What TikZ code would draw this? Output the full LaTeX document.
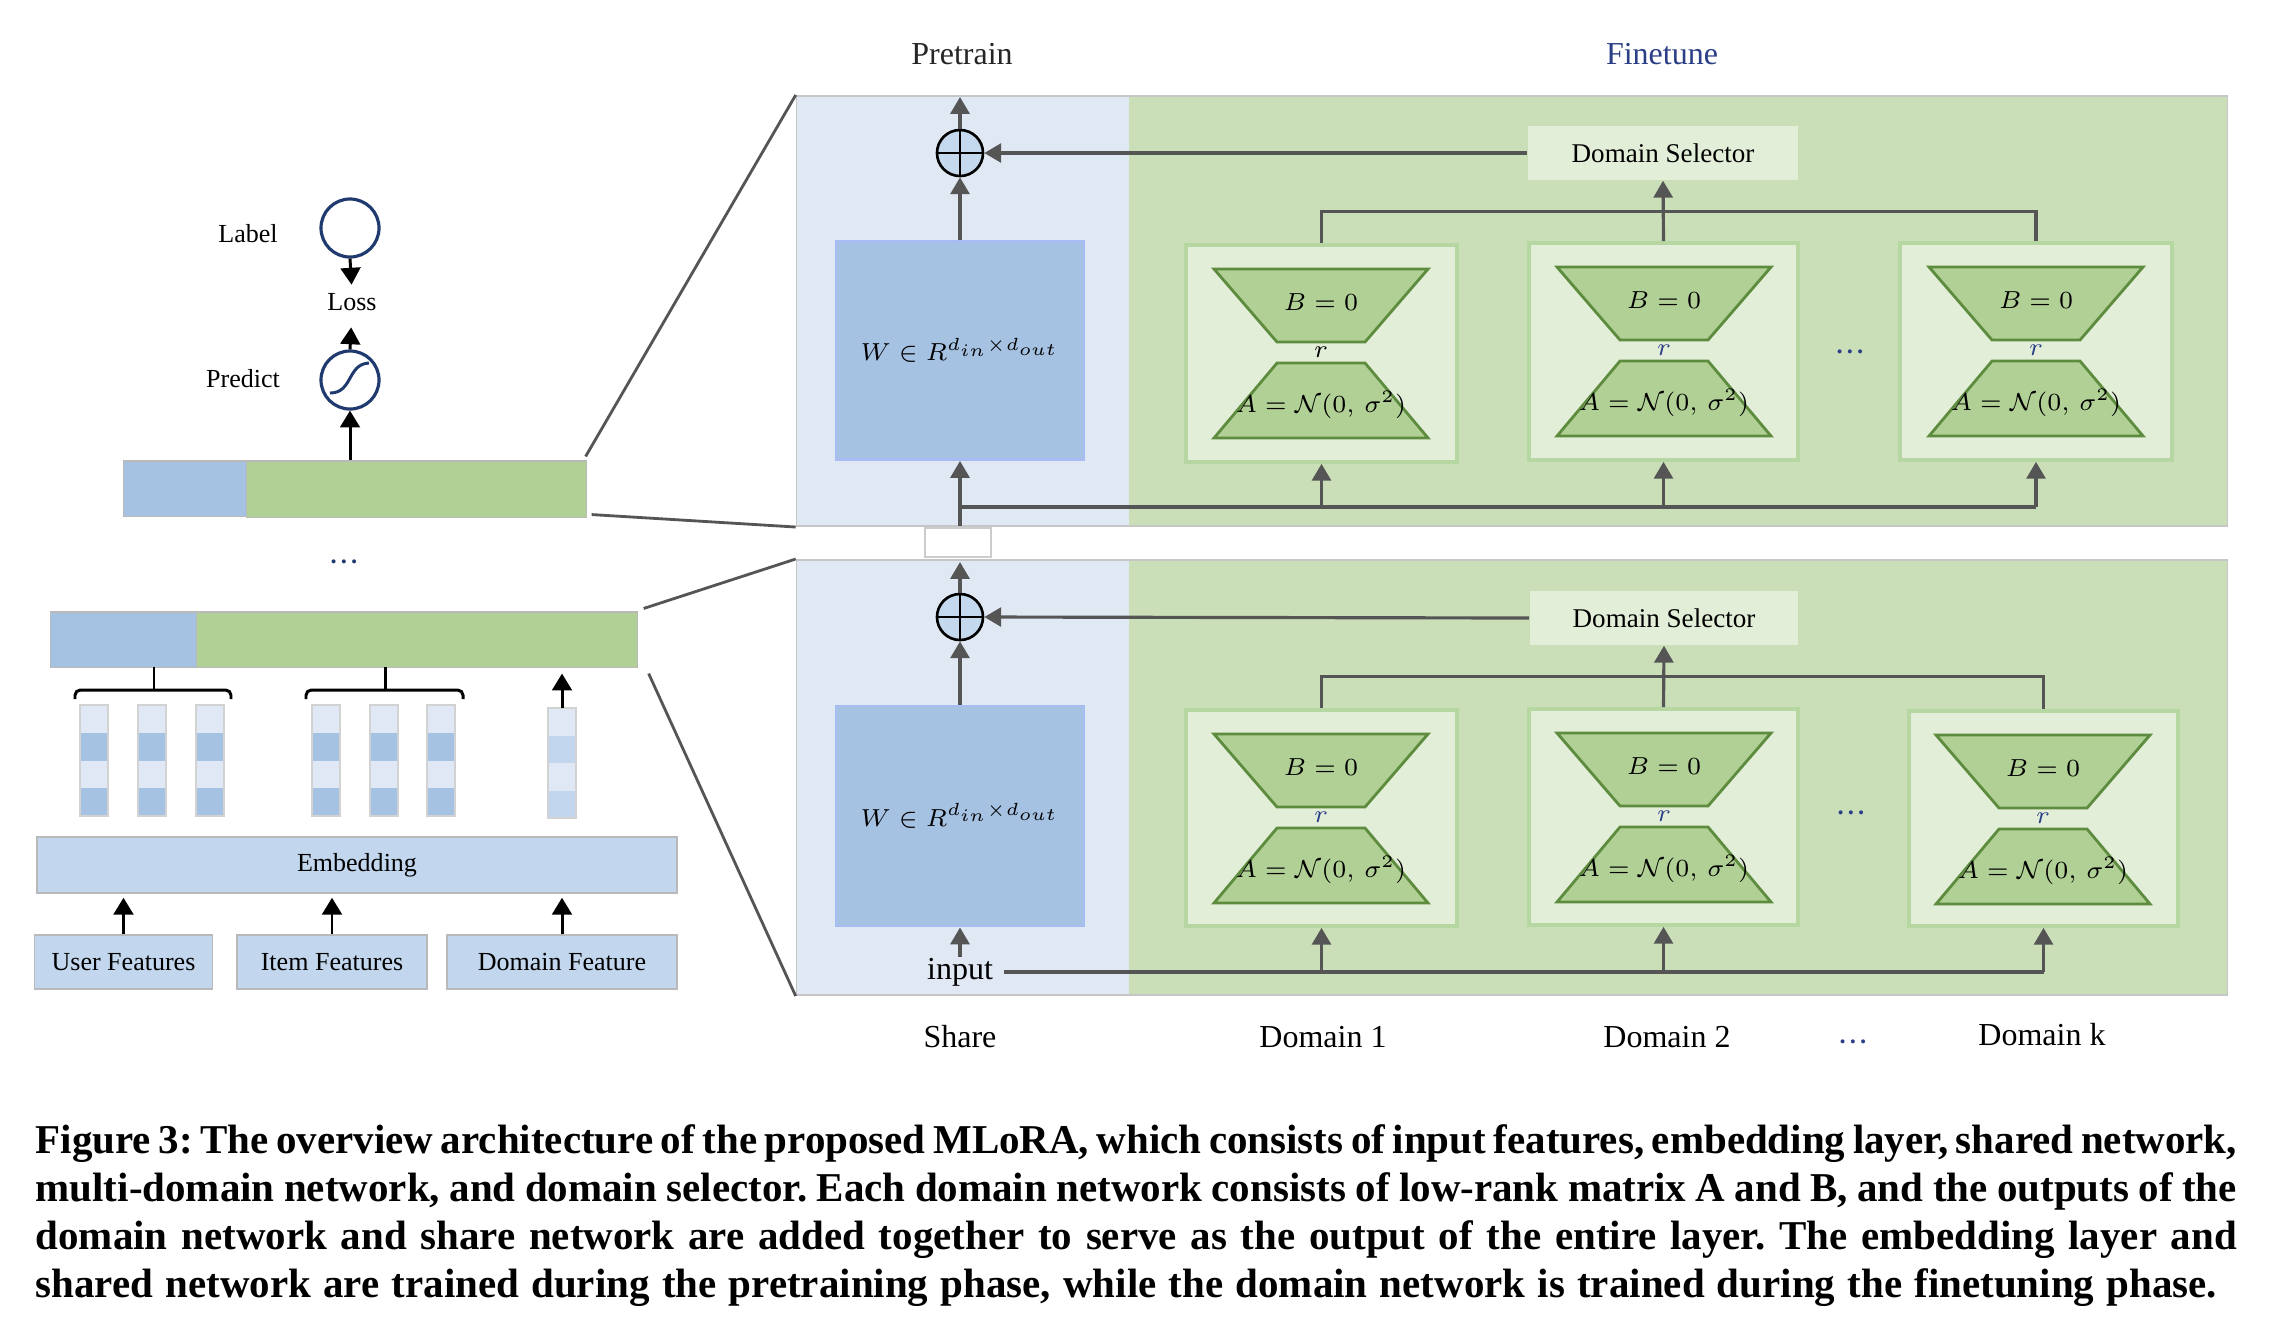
\documentclass[tikz,border=0pt]{standalone}
\usepackage{fontspec}
\setmainfont{Liberation Serif}
\usetikzlibrary{arrows.meta,calc}
\definecolor{pblue}{HTML}{DFE8F3}
\definecolor{pgreen}{HTML}{CADFB8}
\definecolor{wblue}{HTML}{A6C2E2}
\definecolor{wborder}{HTML}{A8BCF4}
\definecolor{opfill}{HTML}{C5D9EE}
\definecolor{dbox}{HTML}{E3EED9}
\definecolor{dborder}{HTML}{B6D6A2}
\definecolor{trapf}{HTML}{B1D095}
\definecolor{trapb}{HTML}{5E8C3E}
\definecolor{arrgray}{HTML}{555555}
\definecolor{navy}{HTML}{1F3A6E}
\definecolor{barblue}{HTML}{A6C2E2}
\definecolor{bargreen}{HTML}{B1D095}
\definecolor{embc}{HTML}{C2D7ED}
\definecolor{cl}{HTML}{DFE8F4}
\definecolor{cd}{HTML}{A6C2E2}
\definecolor{cmid}{HTML}{C2D7ED}
\definecolor{fine}{HTML}{2B3F87}
\newcommand\loraunit[4]{%
  \draw[draw=trapb, fill=trapf, line width=0.8pt] ({#2-107},{#3+24}) -- ({#2+107},{#3+24}) -- ({#2+44},{#3+97}) -- ({#2-44},{#3+97}) -- cycle;
  \draw[draw=trapb, fill=trapf, line width=0.8pt] ({#2-44},{#3+118}) -- ({#2+44},{#3+118}) -- ({#2+107},{#3+193}) -- ({#2-107},{#3+193}) -- cycle;
  \node[mth] (#1B) at (#2,{#3+57}) {$B=0$};
  \node[mth,text=#4] (#1r) at (#2,{#3+107}) {$r$};
  \node[mth] (#1A) at (#2,{#3+160}) {$A=\mathcal{N}(0,\,\sigma^2)$};
}
\frenchspacing
\begin{document}
\begin{tikzpicture}[x=0.01cm,y=-0.01cm,
  lab/.style={font=\fontsize{7.4}{8.9}\selectfont, inner sep=0pt},
  big/.style={font=\fontsize{9.1}{11}\selectfont, inner sep=0pt},
  mth/.style={font=\fontsize{7.1}{8.5}\selectfont, inner sep=0pt},
  arr/.style={draw=arrgray, line width=0.9pt, -{Triangle[length=4.8pt,width=5.4pt]}},
  ln/.style={draw=arrgray, line width=0.9pt},
  blk/.style={draw=black, line width=0.85pt, -{Triangle[length=4.8pt,width=5.6pt]}},
  zl/.style={draw=arrgray, line width=0.8pt},
  circ/.style={circle, draw=navy, line width=0.9pt, fill=white, minimum size=0.58cm, inner sep=0pt},
  opl/.style={circle, draw=black, line width=0.75pt, fill=opfill, minimum size=0.46cm, inner sep=0pt,
    path picture={\draw[black,line width=0.75pt] (path picture bounding box.north) -- (path picture bounding box.south) (path picture bounding box.west) -- (path picture bounding box.east);}},
  wbox/.style={draw=wborder, line width=0.8pt, fill=wblue, minimum width=2.48cm, minimum height=2.18cm, inner sep=0pt, font=\fontsize{7.4}{9}\selectfont},
  dombox/.style={draw=dborder, line width=1pt, fill=dbox, minimum width=2.71cm, minimum height=2.17cm, inner sep=0pt},
  selbox/.style={fill=dbox, minimum width=2.70cm, minimum height=0.54cm, inner sep=0pt, font=\fontsize{7.7}{9}\selectfont},
  featbox/.style={draw=gray!55, line width=0.4pt, fill=embc, minimum height=0.54cm, inner sep=0pt, font=\fontsize{7.4}{8.9}\selectfont},
  barb/.style={fill=barblue, draw=gray!55, line width=0.3pt, inner sep=0pt},
  barg/.style={fill=bargreen, draw=gray!55, line width=0.3pt, inner sep=0pt},
  capt/.style={anchor=base west, inner sep=0pt, font=\bfseries\fontsize{11.65}{14}\selectfont}
]
\useasboundingbox[fill=white] (0,0) rectangle (2276,1326);

% ---------------- left part ----------------
\node[lab] (labeltxt) at (248,234) {Label};
\node[circ] (lcirc) at (350,228) {};
\node[lab] (loss) at (352,302) {Loss};
\node[circ] (pcirc) at (350,380) {};
\draw[navy, line width=0.85pt] ($(pcirc)+(-20,13)$) .. controls ($(pcirc)+(3,13)$) and ($(pcirc)+(-3,-16)$) .. ($(pcirc)+(19,-17)$);
\node[lab] (predict) at (243,379) {Predict};
\draw[blk, shorten >=0.08cm] (lcirc.south) -- (loss.north);
\draw[blk, shorten >=0.16cm] (pcirc.north) -- (loss.south);

\node[barb, minimum width=1.23cm, minimum height=0.55cm] (b1b) at (185.5,488.5) {};
\node[barg, minimum width=3.39cm, minimum height=0.56cm] (b1g) at (416.5,489) {};
\draw[blk] (pcirc |- b1g.north) -- (pcirc.south);

\node[font=\fontsize{7}{8}\bfseries\selectfont, text=navy, inner sep=0pt] (vdots) at (344,562) {.\,.\,.};

\node[barb, minimum width=1.46cm, minimum height=0.55cm] (b2b) at (124,639.5) {};
\node[barg, minimum width=4.40cm, minimum height=0.55cm] (b2g) at (417,639.5) {};

% braces
\draw[black, line width=0.85pt, rounded corners=1.5pt] (75,699) -- (75,690) -- (231,690) -- (231,699);
\draw[black, line width=0.85pt] (154,690) -- (154,667);
\draw[black, line width=0.85pt, rounded corners=1.5pt] (306,699) -- (306,690) -- (463,690) -- (463,699);
\draw[black, line width=0.85pt] (385,690) -- (385,667);

% embedding columns
\foreach \x in {80,138,196,312,370,427} {
  \foreach \i/\c in {0/cl,1/cd,2/cl,3/cd} {
    \fill[\c] (\x,{705+27.75*\i}) rectangle ++(28,27.75);
  }
  \draw[gray!35, line width=0.3pt] (\x,705) rectangle ++(28,111);
}
\foreach \i/\c in {0/cl,1/cmid,2/cl,3/cmid} {
  \fill[\c] (548,{708+27.5*\i}) rectangle ++(28,27.5);
}
\draw[gray!35, line width=0.3pt] (548,708) rectangle ++(28,110);
\coordinate (dcoltop) at (562,708);
\draw[blk, shorten >=0.06cm] (dcoltop) -- (dcoltop |- b2g.south);

\node[featbox, minimum width=6.40cm, minimum height=0.56cm] (emb) at (357,865) {Embedding};
\node[featbox, minimum width=1.78cm] (user) at (123.5,962) {User Features};
\node[featbox, minimum width=1.90cm] (item) at (332,962) {Item Features};
\node[featbox, minimum width=2.30cm] (domf) at (562,962) {Domain Feature};
\draw[blk, shorten >=0.04cm] (user.north) -- (user.north |- emb.south);
\draw[blk, shorten >=0.04cm] (item.north) -- (item.north |- emb.south);
\draw[blk, shorten >=0.04cm] (domf.north) -- (domf.north |- emb.south);

% ---------------- upper panel ----------------
\fill[pblue] (797,96) rectangle (1129,526);
\fill[pgreen] (1129,96) rectangle (2227,526);
\node[draw=gray!45, line width=0.5pt, minimum width=14.30cm, minimum height=4.30cm, inner sep=0pt] (p1) at (1512,311) {};

\node[big, text=black!85] (pre) at (962,54) {Pretrain};
\node[big, text=fine] (fin) at (1662,54) {Finetune};

\node[opl] (op1) at (960,153) {};
\node[wbox] (w1) at (960,350.5) {$W\in R^{d_{in}\times d_{out}}$};
\node[dombox] (d1u) at (1321.5,353.5) {};
\node[dombox, minimum width=2.69cm] (d2u) at (1663.5,351.5) {};
\node[dombox, minimum width=2.72cm] (dku) at (2036,351.5) {};
\loraunit{d1u}{1321}{245}{black}
\loraunit{d2u}{1664}{243}{fine}
\loraunit{dku}{2036}{243}{fine}
\node[selbox] (ds1) at (1663,153) {Domain Selector};
\node[font=\fontsize{7}{8}\bfseries\selectfont, text=fine, inner sep=0pt] (dots1) at (1850,352) {.\,.\,.};

\coordinate (top1) at (960,97);
\coordinate (in1) at (960,526);
\coordinate (bus1) at (960,507);
\draw[arr] (in1) -- (w1.south);
\draw[ln] (bus1) -- (bus1 -| dku.south);
\draw[arr] (bus1 -| d1u.south) -- (d1u.south);
\draw[arr] (bus1 -| d2u.south) -- (d2u.south);
\draw[arr] (bus1 -| dku.south) -- (dku.south);
\draw[arr] (w1.north) -- (op1.south);
\draw[arr] (op1.north) -- (top1);
\draw[arr] (ds1.west) -- (op1.east);
\draw[arr] (d2u.north) -- (ds1.south);
\draw[ln] (d1u.north) -- ++(0,-32) -| (dku.north);

\node[draw=gray!40, fill=white, line width=0.4pt, minimum width=0.66cm, minimum height=0.29cm, inner sep=0pt] (gapbox) at (958,542.5) {};

% ---------------- lower panel ----------------
\fill[pblue] (797,560) rectangle (1129,995);
\fill[pgreen] (1129,560) rectangle (2227,995);
\node[draw=gray!45, line width=0.5pt, minimum width=14.30cm, minimum height=4.35cm, inner sep=0pt] (p2) at (1512,777.5) {};

\node[opl] (op2) at (960,617) {};
\node[wbox, minimum height=2.20cm] (w2) at (960,816) {$W\in R^{d_{in}\times d_{out}}$};
\node[big] (inp) at (960,972) {input};
\node[dombox, minimum height=2.16cm] (d1l) at (1321.5,818) {};
\node[dombox, minimum width=2.69cm, minimum height=2.16cm] (d2l) at (1663.5,817) {};
\node[dombox, minimum width=2.69cm, minimum height=2.15cm] (dkl) at (2043.5,818.5) {};
\loraunit{d1l}{1321}{710}{fine}
\loraunit{d2l}{1664}{709}{fine}
\loraunit{dkl}{2043}{711}{fine}
\node[selbox, minimum width=2.68cm] (ds2) at (1664,618) {Domain Selector};
\node[font=\fontsize{7}{8}\bfseries\selectfont, text=fine, inner sep=0pt] (dots2) at (1851,813) {.\,.\,.};

\coordinate (top2) at (960,562);
\draw[arr] (inp.north) -- (w2.south);
\draw[ln, shorten <=0.1cm] (inp.east) -- (inp.east -| dkl.south);
\draw[arr] (inp.east -| d1l.south) -- (d1l.south);
\draw[arr] (inp.east -| d2l.south) -- (d2l.south);
\draw[arr] (inp.east -| dkl.south) -- (dkl.south);
\draw[arr] (w2.north) -- (op2.south);
\draw[arr] (op2.north) -- (top2);
\draw[arr] (ds2.west) -- (op2.east);
\draw[arr] (d2l.north) -- (ds2.south);
\draw[ln] (d1l.north) -- ++(0,-32) -| (dkl.north);

% zoom lines
\draw[zl] ($(b1g.north east)+(-1,-4)$) -- (p1.north west);
\draw[zl] ($(b1g.south east)+(5,-3)$) -- (p1.south west);
\draw[zl] ($(b2g.north east)+(6,-3)$) -- (p2.north west);
\draw[zl] ($(b2g.south east)+(11,6)$) -- (p2.south west);

% bottom labels
\node[big] (lshare) at (960,1037) {Share};
\node[big] (ld1) at (1323,1037) {Domain 1};
\node[big] (ld2) at (1667,1037) {Domain 2};
\node[font=\fontsize{7}{8}\bfseries\selectfont, text=fine, inner sep=0pt] (ldots) at (1853,1042) {.\,.\,.};
\node[big] (ldk) at (2042,1035) {Domain k};

% caption
\node[capt] (cap1) at (35,1153) {\makebox[22cm][s]{Figure 3: The overview architecture of the proposed MLoRA, which consists of input features, embedding layer, shared network,}};
\node[capt] (cap2) at (35,1201) {\makebox[22cm][s]{multi-domain network, and domain selector. Each domain network consists of low-rank matrix A and B, and the outputs of the}};
\node[capt] (cap3) at (35,1249) {\makebox[22cm][s]{domain network and share network are added together to serve as the output of the entire layer. The embedding layer and}};
\node[capt] (cap4) at (35,1297) {\makebox[21.8cm][s]{shared network are trained during the pretraining phase, while the domain network is trained during the finetuning phase.}};
\end{tikzpicture}
\end{document}
